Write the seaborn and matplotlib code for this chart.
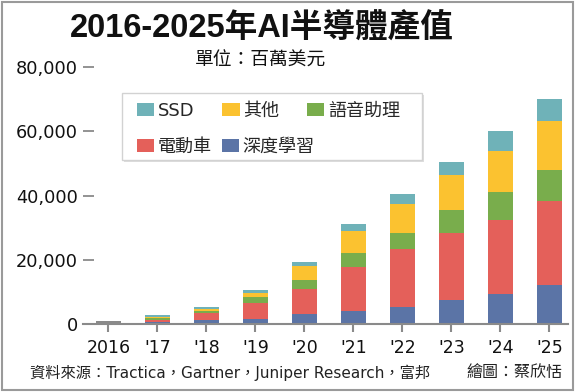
import numpy as np
import pandas as pd
import matplotlib
matplotlib.use('Agg')
import matplotlib.pyplot as plt
import seaborn as sns
from matplotlib.patches import Patch, Rectangle

# values in millions of USD; 2016 only shown as a total
years = ['2016', "'17", "'18", "'19", "'20", "'21", "'22", "'23", "'24", "'25"]
deep_learning = [0, 620, 1250, 1450, 3000, 3900, 5400, 7500, 9400, 12200]
ev = [0, 630, 2050, 5200, 8000, 14000, 17900, 20800, 23100, 26000]
voice = [0, 620, 850, 1650, 2800, 4200, 5000, 7100, 8700, 9900]
other = [0, 410, 630, 1250, 4200, 6800, 9100, 10900, 12800, 15200]
ssd = [0, 420, 620, 1050, 1300, 2200, 3200, 4200, 6000, 6700]
total_2016 = 1000

series_names = ['深度學習', '電動車', '語音助理', '其他', 'SSD']
colors = {'深度學習': '#5b74a6', '電動車': '#e4605a', '語音助理': '#79ad4c',
          '其他': '#fbc230', 'SSD': '#6fb2b8'}
gray = '#8a8a8a'

df = pd.DataFrame({'深度學習': deep_learning, '電動車': ev, '語音助理': voice,
                   '其他': other, 'SSD': ssd}, index=years)
cum = df[series_names].cumsum(axis=1)

sns.set_theme(style='white')
plt.rcParams['font.family'] = ['DejaVu Sans', 'Noto Sans CJK TC']

fig = plt.figure(figsize=(5.75, 3.92), dpi=100)
ax = fig.add_axes([83/575, 68/392, 485/575, 256.7/392])

# stacked bars: draw cumulative totals from the top layer down
for name in reversed(series_names):
    sns.barplot(x=years, y=cum[name].values, order=years, color=colors[name],
                width=0.52, saturation=1, linewidth=0, errorbar=None, ax=ax)
sns.barplot(x=['2016'], y=[total_2016], order=years, color=gray,
            width=0.52, saturation=1, linewidth=0, errorbar=None, ax=ax)

ax.set_xlim(-0.52, 9.38)
ax.set_ylim(0, 80000)
yt = [0, 20000, 40000, 60000, 80000]
ax.set_yticks(yt)
ax.set_yticklabels([f'{v:,}' for v in yt])
ax.set_xlabel('')
ax.set_ylabel('')
for s in ['top', 'right', 'left']:
    ax.spines[s].set_visible(False)
ax.spines['bottom'].set_color(gray)
ax.spines['bottom'].set_linewidth(1.5)
ax.tick_params(axis='x', direction='out', length=5.5, width=1.5, color=gray,
               pad=5, labelsize=12.5, labelcolor='#111', bottom=True)
ax.tick_params(axis='y', direction='in', length=8, width=1.3, color=gray,
               pad=3.6, labelsize=12.8, labelcolor='#111', left=True)
ax.grid(False)

# legend box with two rows
fx0, fy0 = (122-83)/485, (324-160)/256.7
fw, fh = 300/485, 67/256.7
ax.add_patch(Rectangle((fx0 + 0.004, fy0 - 0.008), fw, fh, transform=ax.transAxes,
                       facecolor='#dedede', edgecolor='none', zorder=4))
ax.add_patch(Rectangle((fx0, fy0), fw, fh, transform=ax.transAxes,
                       facecolor='white', edgecolor='#d2d2d2', lw=1, zorder=5))

def row_legend(names, y, spacing):
    handles = [Patch(facecolor=colors[n], edgecolor='none', label=n) for n in names]
    leg = ax.legend(handles=handles, ncol=len(names), loc='center left',
                    bbox_to_anchor=((137-83)/485, y), frameon=False, fontsize=13,
                    handlelength=0.95, handleheight=0.75, handletextpad=0.2,
                    columnspacing=spacing, borderpad=0, borderaxespad=0)
    leg.set_zorder(6)
    return leg

leg1 = row_legend(['SSD', '其他', '語音助理'], (324-111)/256.7, 1.55)
ax.add_artist(leg1)
row_legend(['電動車', '深度學習'], (324-146.7)/256.7, 0.56)

# titles and notes
fig.text(262/575, 1-27.7/392, '2016-2025年AI半導體產值', ha='center', va='center',
         fontsize=23.5, fontweight='bold', color='#111',
         family=['Liberation Sans', 'Noto Sans CJK TC'])
fig.text(261/575, 1-60.5/392, '單位：百萬美元', ha='center', va='center',
         fontsize=13.5, color='#111')
fig.text(30/575, 1-373/392, '資料來源：Tractica，Gartner，Juniper Research，富邦',
         ha='left', va='center', fontsize=11, color='#222')
fig.text(562/575, 1-373/392, '繪圖：蔡欣恬', ha='right', va='center',
         fontsize=11.5, color='#222')

fig.patches.append(Rectangle((2/575, 2/392), 571/575, 388/392, transform=fig.transFigure,
                             fill=False, edgecolor='#9a9a9a', lw=1.5))

fig.savefig('out.png', dpi=100)
